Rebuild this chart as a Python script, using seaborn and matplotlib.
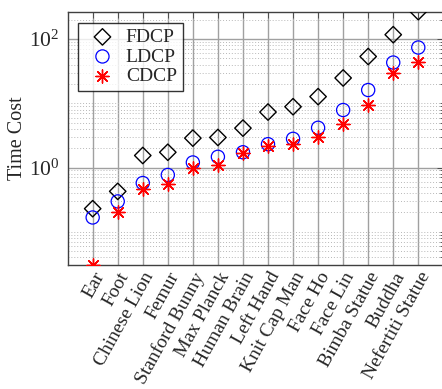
import numpy as np
import pandas as pd
import matplotlib
matplotlib.use("Agg")
import matplotlib.pyplot as plt
from matplotlib.ticker import FixedLocator, LogLocator, LogFormatterSciNotation, NullFormatter
import seaborn as sns

# Per-model running time for three decomposition methods
models = ["Ear", "Foot", "Chinese Lion", "Femur", "Stanford Bunny", "Max Planck",
          "Human Brain", "Left Hand", "Knit Cap Man", "Face Ho", "Face Lin",
          "Bimba Statue", "Buddha", "Nefertiti Statue"]
fdcp = [0.229, 0.426, 1.54, 1.73, 2.87, 2.94, 4.11, 7.31, 8.85, 12.7, 24.8, 53.5, 117, 267]
ldcp = [0.167, 0.297, 0.575, 0.767, 1.20, 1.47, 1.73, 2.31, 2.80, 4.16, 7.86, 16.1, 43.1, 73.9]
cdcp = [0.0305, 0.205, 0.470, 0.548, 0.986, 1.10, 1.66, 2.18, 2.31, 2.97, 4.75, 9.3, 29.4, 44.2]

sns.set_theme(style="white")
plt.rcParams["font.family"] = ["Liberation Serif", "DejaVu Serif"]
plt.rcParams["mathtext.fontset"] = "custom"
plt.rcParams["mathtext.rm"] = "Liberation Serif"
plt.rcParams["mathtext.it"] = "Liberation Serif:italic"

df = pd.DataFrame({"model": models, "FDCP": fdcp, "LDCP": ldcp, "CDCP": cdcp})

fig = plt.figure(figsize=(4.42, 3.89), dpi=100)
ax = fig.add_axes([0.153, 0.319, 0.850, 0.651])

asterisk = (8, 2, 0)
sns.scatterplot(data=df, x="model", y="FDCP", ax=ax, marker="D", s=70,
                facecolor="none", edgecolor="black", linewidth=1.0, label="FDCP", zorder=3)
sns.scatterplot(data=df, x="model", y="LDCP", ax=ax, marker="o", s=90,
                facecolor="none", edgecolor="blue", linewidth=0.9, label="LDCP", zorder=3)
sns.scatterplot(data=df, x="model", y="CDCP", ax=ax, marker=asterisk, s=90,
                color="red", linewidth=1.0, label="CDCP", zorder=3)

ax.set_yscale("log")
allvals = np.concatenate([fdcp, ldcp, cdcp])
ax.set_ylim(allvals.min(), allvals.max())
ax.set_xlim(-1, len(models))

ax.yaxis.set_major_locator(FixedLocator([1, 100]))
ax.yaxis.set_major_formatter(LogFormatterSciNotation())
ax.yaxis.set_minor_locator(LogLocator(base=10, subs=np.arange(1, 10), numticks=20))
ax.yaxis.set_minor_formatter(NullFormatter())

ax.set_xticks(range(len(models)))
ax.set_xticklabels(models, rotation=61, ha="right", rotation_mode="anchor", fontsize=14)
ax.tick_params(axis="both", which="both", direction="in", top=True, right=True,
               color="#404040", width=0.6)
ax.tick_params(axis="both", which="major", length=4)
ax.tick_params(axis="y", which="major", labelsize=15.5, pad=6)
ax.tick_params(axis="y", which="minor", length=2.5)
ax.tick_params(axis="x", which="major", pad=3)

ax.grid(True, which="major", axis="both", color="#a0a0a0", linewidth=1.0, linestyle="-")
ax.grid(True, which="minor", axis="y", color="#b8b8b8", linewidth=0.7, linestyle=(0, (1, 2)))
ax.set_axisbelow(True)

for sp in ax.spines.values():
    sp.set_color("#404040")
    sp.set_linewidth(1.0)

ax.set_xlabel("")
ax.set_ylabel("Time Cost", fontsize=14.5, labelpad=1)

leg = ax.legend(loc="upper left", bbox_to_anchor=(0.028, 0.957), borderaxespad=0,
                fontsize=14, frameon=True, fancybox=False, edgecolor="black",
                handlelength=1.9, handletextpad=0.25, borderpad=0.3, labelspacing=0.1)
leg.get_frame().set_linewidth(1.0)

fig.savefig("out.png", dpi=100)
